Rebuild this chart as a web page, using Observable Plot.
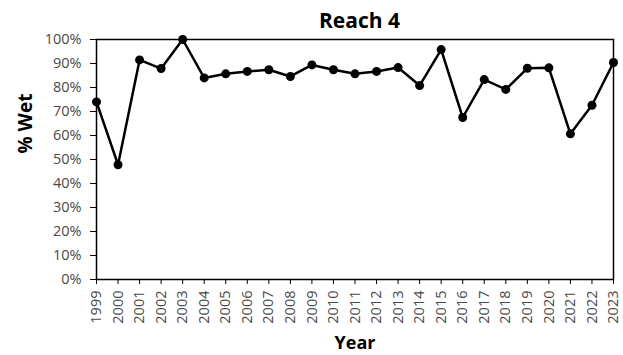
<!DOCTYPE html>
<html>
<head>
<meta charset="utf-8">
<script src="https://cdn.jsdelivr.net/npm/d3@7"></script>
<script src="https://cdn.jsdelivr.net/npm/@observablehq/plot@0.6"></script>
<style>
  html, body { margin: 0; padding: 0; background: #fff; }
  #chart { width: 623px; height: 355px; }
</style>
</head>
<body>
<div id="chart"></div>
<script>
const title = "Reach 4";
const xLabel = "Year";
const yLabel = "% Wet";
const years = [1999,2000,2001,2002,2003,2004,2005,2006,2007,2008,2009,2010,2011,2012,2013,2014,2015,2016,2017,2018,2019,2020,2021,2022,2023];
const wetPct = [74.0,47.8,91.5,87.9,100.0,84.0,85.7,86.7,87.4,84.6,89.4,87.4,85.7,86.7,88.3,80.8,95.8,67.5,83.3,79.2,88.0,88.2,60.7,72.6,90.4];
const yTicks = [0,10,20,30,40,50,60,70,80,90,100];

const data = years.map((y, i) => ({year: y, pct: wetPct[i]}));

const chart = Plot.plot({
  width: 623,
  height: 355,
  marginLeft: 96,
  marginRight: 10,
  marginTop: 39,
  marginBottom: 76,
  style: {fontFamily: "'Open Sans', sans-serif", fontSize: "14px", background: "#fff"},
  x: {domain: [1999, 2023]},
  y: {domain: [0, 100]},
  marks: [
    Plot.axisY({ticks: yTicks, tickFormat: d => d + "%", tickSize: 6, tickPadding: 9, label: null, fill: "#4a4a4a", stroke: "black", fontSize: 14.5}),
    Plot.axisX({ticks: years, tickFormat: d => String(d), tickSize: 5, tickPadding: 6, tickRotate: -90, label: null, fill: "#4a4a4a", stroke: "black", fontSize: 14.5}),
    Plot.frame({stroke: "black", strokeWidth: 1.5}),
    Plot.line(data, {x: "year", y: "pct", stroke: "black", strokeWidth: 2.5}),
    Plot.dot(data, {x: "year", y: "pct", r: 4.5, fill: "black", stroke: "none"}),
    Plot.text([title], {frameAnchor: "top", dy: -18, dx: 4.5, fontSize: 21, fontWeight: "bold", fill: "black", lineAnchor: "middle"}),
    Plot.text([xLabel], {frameAnchor: "bottom", dy: 64, fontSize: 18, fontWeight: "bold", fill: "black", lineAnchor: "middle"}),
    Plot.text([yLabel], {frameAnchor: "left", rotate: -90, dx: -70.5, dy: -6, fontSize: 19, fontWeight: "bold", fill: "black", lineAnchor: "middle"})
  ]
});
document.getElementById("chart").appendChild(chart);
</script>
</body>
</html>
